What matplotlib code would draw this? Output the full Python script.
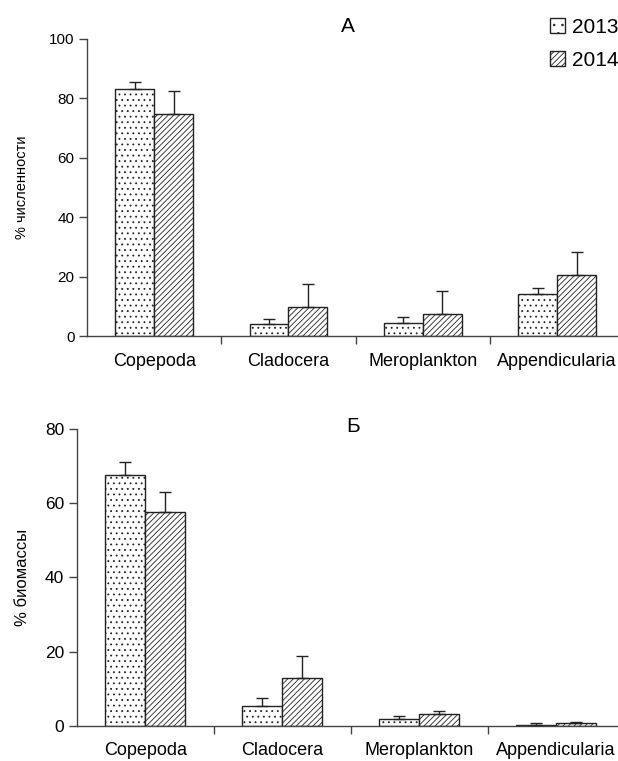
import matplotlib
matplotlib.use("Agg")
import matplotlib.pyplot as plt
from matplotlib.patches import Patch
import numpy as np

plt.rcParams['font.family'] = ['Liberation Sans', 'DejaVu Sans']
plt.rcParams['hatch.linewidth'] = 0.6

categories = ["Copepoda", "Cladocera", "Meroplankton", "Appendicularia"]
years = ["2013", "2014"]

# Panel A: % abundance
abund_2013 = [83.2, 3.9, 4.3, 14.0]
abund_2013_err = [2.3, 1.9, 2.0, 2.0]
abund_2014 = [74.6, 9.8, 7.4, 20.5]
abund_2014_err = [7.9, 7.6, 7.8, 7.8]

# Panel Б: % biomass
biom_2013 = [67.7, 5.2, 1.8, 0.3]
biom_2013_err = [3.3, 2.3, 0.7, 0.3]
biom_2014 = [57.7, 12.9, 3.2, 0.65]
biom_2014_err = [5.3, 5.9, 0.8, 0.4]

W, H = 618, 761
fig = plt.figure(figsize=(W / 100, H / 100), dpi=100)

def px(x0, y_top, x1, y_bot):
    return [x0 / W, 1 - y_bot / H, (x1 - x0) / W, (y_bot - y_top) / H]

ax1_left, ax1_w = 87, 4 * 134.3
ax2_left, ax2_w = 76.7, 4 * 137
ax1 = fig.add_axes(px(ax1_left, 39, ax1_left + ax1_w, 336))
ax2 = fig.add_axes(px(ax2_left, 429, ax2_left + ax2_w, 725.7))

hatches = ['...', '//////']
edge = '#222222'
spine_c = '#444444'

def draw(ax, v13, e13, v14, e14, ymax, yticks, ylabel, ylab_fs, tick_fs, lab_x, title, title_xy):
    x = np.arange(len(categories))
    w = 0.29
    ax.bar(x - w / 2, v13, width=w, color='white', edgecolor=edge, hatch=hatches[0], linewidth=1.0, zorder=2)
    ax.bar(x + w / 2, v14, width=w, color='white', edgecolor=edge, hatch=hatches[1], linewidth=1.0, zorder=2)
    z = np.zeros(len(categories))
    ax.errorbar(x - w / 2, v13, yerr=[z, e13], fmt='none', ecolor=edge, elinewidth=1.0, capsize=4.5, capthick=1.0, zorder=3)
    ax.errorbar(x + w / 2, v14, yerr=[z, e14], fmt='none', ecolor=edge, elinewidth=1.0, capsize=4.5, capthick=1.0, zorder=3)
    ax.set_xlim(-0.5, len(categories) - 0.5)
    ax.set_ylim(0, ymax)
    ax.set_yticks(yticks)
    ax.set_xticks(x)
    ax.set_xticklabels(categories, fontsize=13)
    ax.tick_params(axis='x', which='major', length=0, pad=12)
    ax.set_xticks(np.arange(len(categories)) + 0.5, minor=True)
    ax.tick_params(axis='x', which='minor', length=6, direction='out', color=spine_c, width=1.0)
    ax.tick_params(axis='y', length=6, direction='out', color=spine_c, width=1.0, labelsize=tick_fs, pad=3)
    for s in ['top', 'right']:
        ax.spines[s].set_visible(False)
    for s in ['left', 'bottom']:
        ax.spines[s].set_color(spine_c)
        ax.spines[s].set_linewidth(1.0)
    ax.set_ylabel(ylabel, fontsize=ylab_fs)
    ax.yaxis.set_label_coords(lab_x, 0.5)
    fig.text(title_xy[0] / W, 1 - title_xy[1] / H, title, fontsize=15, ha='center', va='center')

draw(ax1, abund_2013, abund_2013_err, abund_2014, abund_2014_err, 100, [0, 20, 40, 60, 80, 100],
     '% численности', 10.5, 11, -(ax1_left - 29) / ax1_w, 'А', (348, 27))
draw(ax2, biom_2013, biom_2013_err, biom_2014, biom_2014_err, 80, [0, 20, 40, 60, 80],
     '% биомассы', 12, 12.5, -(ax2_left - 30) / ax2_w, 'Б', (353, 427))

handles = [Patch(facecolor='white', edgecolor=edge, hatch=h, linewidth=1.0) for h in ['..', '//////']]
fig.legend(handles, years, loc='upper left', bbox_to_anchor=(550 / W, 1 - 18 / H),
           frameon=False, fontsize=15, handlelength=0.7, handleheight=0.7,
           handletextpad=0.35, labelspacing=0.65, borderpad=0, borderaxespad=0)

fig.savefig('out.png', dpi=100)
